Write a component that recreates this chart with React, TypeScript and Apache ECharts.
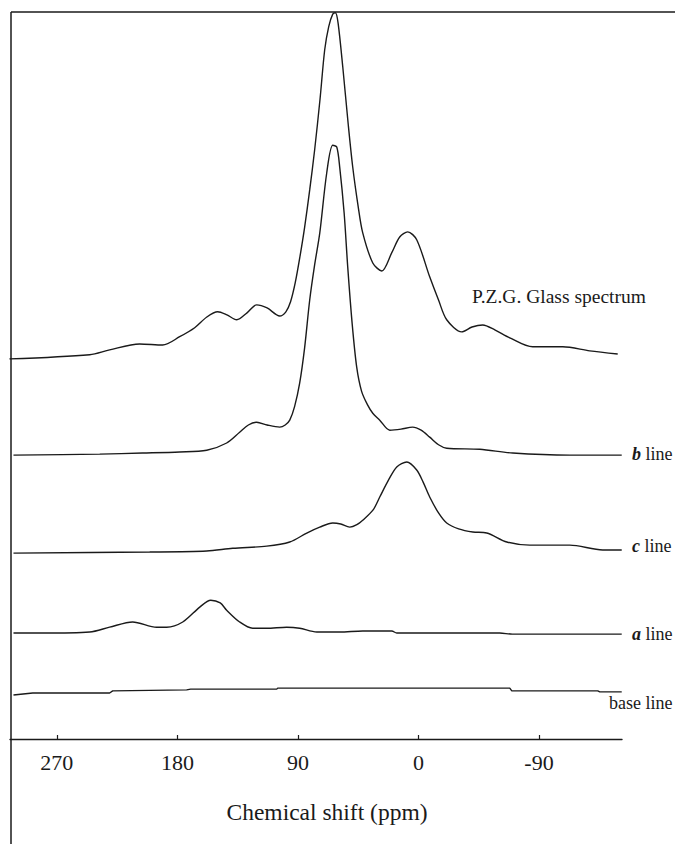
import { useEffect, useRef } from "react";
import * as echarts from "echarts";

// Chemical shift (ppm) vs. relative intensity above each trace's own baseline
const shiftTicks = [270, 180, 90, 0, -90];

const pzgGlass: [number, number][] = [
  [305.4, 0], [245.5, 1.2], [230.6, 2.6], [208.2, 4.3], [191, 4.0], [178.3, 6.4],
  [167.1, 9.0], [158, 12.1], [149.9, 13.6], [143, 12.7], [135.7, 11.3], [128, 13.3],
  [120.8, 15.6], [113, 14.7], [103.6, 12.4], [99, 13.6], [95.5, 16.5], [92, 22],
  [88.5, 29.5], [85, 38], [81.2, 48.8], [77.5, 60.4], [73.5, 75], [70, 89.3],
  [67, 96], [64, 99.6], [62, 100], [60, 97], [56.5, 84.3], [52.5, 68],
  [49.1, 55.5], [45, 44], [41.6, 36.4], [34.1, 27.7], [27.4, 25.4], [20, 30.6],
  [14, 35.2], [8, 36.7], [1.3, 34.4], [-8.4, 23.7], [-15, 17], [-21.1, 11.3],
  [-32.3, 7.8], [-40, 9.2], [-48, 9.8], [-57, 8.4], [-68.2, 6.1], [-85.3, 3.5],
  [-107.8, 3.5], [-127.9, 2.3], [-148.8, 1.4],
];

const bLine: [number, number][] = [
  [302.4, 0], [238, 0.3], [206, 0.6], [178.3, 0.9], [158.1, 1.4], [143.2, 3.5],
  [133.5, 6.6], [127, 8.7], [120.8, 9.5], [113, 8.7], [103.6, 8.1], [99.5, 8.7],
  [96.1, 10.1], [92.5, 14], [88.7, 20.8], [85, 31], [81.2, 44.8], [77.5, 55],
  [73.7, 64.1], [68.5, 81.5], [64, 89.5], [61, 89], [58.8, 83.2], [55.5, 70],
  [52.8, 54.3], [49.5, 38], [46.1, 25.4], [42.5, 18.5], [38, 14.5], [34.1, 12.1],
  [28.9, 10.1], [21.4, 7.2], [13, 7.5], [4.3, 8.1], [-2, 7.2], [-8.4, 5.2],
  [-15, 3], [-21.1, 2.0], [-45.8, 1.7], [-70.4, 0.6], [-113, 0], [-151.8, 0],
];

const cLine: [number, number][] = [
  [302.4, 0], [200.7, 0.3], [158.1, 0.6], [138.7, 1.4], [113.3, 2.0], [96.1, 3.2],
  [83.4, 5.8], [73.7, 7.5], [64, 8.7], [58, 8.4], [51.3, 7.5], [46, 8.2],
  [41.6, 9.5], [34, 12.4], [28.9, 16.2], [22.5, 21], [16.2, 24.9], [8.7, 26.3],
  [1.3, 24.0], [-3.5, 20.5], [-8.4, 16.2], [-15, 11.6], [-21.1, 8.7], [-30, 7],
  [-40.6, 6.1], [-51, 5.8], [-66, 3.2], [-83.1, 2.3], [-113, 2.3], [-137.6, 0.9],
  [-151.8, 0.9],
];

const aLine: [number, number][] = [
  [302.4, 0], [280.6, 0], [245.5, 0.3], [230.6, 1.7], [213.4, 3.2], [195.5, 1.7],
  [188, 1.7], [176, 3.2], [163.3, 7.5], [155.1, 9.5], [148, 8.7], [143.2, 6.6],
  [133.5, 3.2], [123.8, 1.4], [113.3, 1.4], [98.4, 1.7], [88.7, 1.4], [75.9, 0.3],
  [58.8, 0.3], [41.6, 0.6], [19.9, 0.6], [16.2, 0], [-60.7, 0], [-70, -0.3],
  [-151.8, -0.3],
];

const baseLine: [number, number][] = [
  [302.4, -0.3], [288, 0.3], [230.6, 0.3], [228.3, 0.9], [173.1, 1.2], [170.1, 1.4],
  [105.8, 1.4], [105.1, 1.7], [-68.2, 1.7], [-69.7, 0.9], [-133.9, 0.9], [-135.4, 0.6],
  [-151.8, 0.6],
];

// vertical stacking of the traces (baseline level of each)
const traceNames = ["P.Z.G. Glass spectrum", "b line", "c line", "a line", "base line"];
const traceOffsets = [109.8, 82.0, 53.7, 30.6, 13.0];

const SERIF = "'Liberation Serif', 'Times New Roman', serif";
const INK = "#1a1a1a";

export default function App() {
  const ref = useRef<HTMLDivElement>(null);

  useEffect(() => {
    if (!ref.current) return;
    const chart = echarts.init(ref.current, null, { renderer: "svg" });

    const traces = [pzgGlass, bLine, cLine, aLine, baseLine];

    const series = traces.map((trace, i) => ({
      name: traceNames[i],
      type: "line",
      data: trace.map(([ppm, h]) => [ppm, h + traceOffsets[i]]),
      showSymbol: false,
      smooth: i === 4 ? false : 0.3,
      lineStyle: { color: INK, width: 1.4 },
      silent: true,
    }));

    // letter-tagged trace labels at the right end of each line
    const letterLabel = (letter: string, y: number) => ({
      type: "text",
      x: 632,
      y,
      style: {
        text: `{l|${letter}}{t| line}`,
        rich: {
          l: {
            fontFamily: SERIF,
            fontSize: 18,
            fontWeight: "bold",
            fontStyle: "italic",
            fill: INK,
          },
          t: { fontFamily: SERIF, fontSize: 18, fill: INK },
        },
        textAlign: "left",
        textVerticalAlign: "middle",
      },
    });

    chart.setOption({
      animation: false,
      backgroundColor: "#ffffff",
      grid: { left: 10, right: 53, top: 12, bottom: 105 },
      xAxis: {
        type: "value",
        inverse: true,
        min: -152,
        max: 305,
        axisLine: { show: true, lineStyle: { color: INK, width: 1.4 } },
        axisTick: {
          show: true,
          inside: true,
          length: 4,
          customValues: shiftTicks,
          lineStyle: { color: INK, width: 1.2 },
        },
        axisLabel: {
          customValues: shiftTicks,
          fontFamily: SERIF,
          fontSize: 22,
          color: INK,
          margin: 12,
        },
        splitLine: { show: false },
      },
      yAxis: {
        type: "value",
        min: 0,
        max: 210,
        show: false,
      },
      series,
      graphic: [
        {
          type: "line",
          shape: { x1: 11, y1: 12, x2: 11, y2: 844 },
          style: { stroke: INK, lineWidth: 1.5 },
        },
        {
          type: "line",
          shape: { x1: 11, y1: 12, x2: 675, y2: 12 },
          style: { stroke: INK, lineWidth: 1.5 },
        },
        {
          type: "text",
          x: 472,
          y: 296,
          style: {
            text: traceNames[0],
            font: `19.5px ${SERIF}`,
            fill: INK,
            textAlign: "left",
            textVerticalAlign: "middle",
          },
        },
        letterLabel("b", 454),
        letterLabel("c", 546),
        letterLabel("a", 634),
        {
          type: "text",
          x: 609,
          y: 703,
          style: {
            text: traceNames[4],
            font: `18px ${SERIF}`,
            fill: INK,
            textAlign: "left",
            textVerticalAlign: "middle",
          },
        },
        {
          type: "text",
          x: 327,
          y: 812,
          style: {
            text: "Chemical shift (ppm)",
            font: `23.5px ${SERIF}`,
            fill: INK,
            textAlign: "center",
            textVerticalAlign: "middle",
          },
        },
      ],
    });

    return () => chart.dispose();
  }, []);

  return (
    <div
      ref={ref}
      style={{ position: "fixed", left: 0, top: 0, width: 675, height: 844 }}
    />
  );
}
